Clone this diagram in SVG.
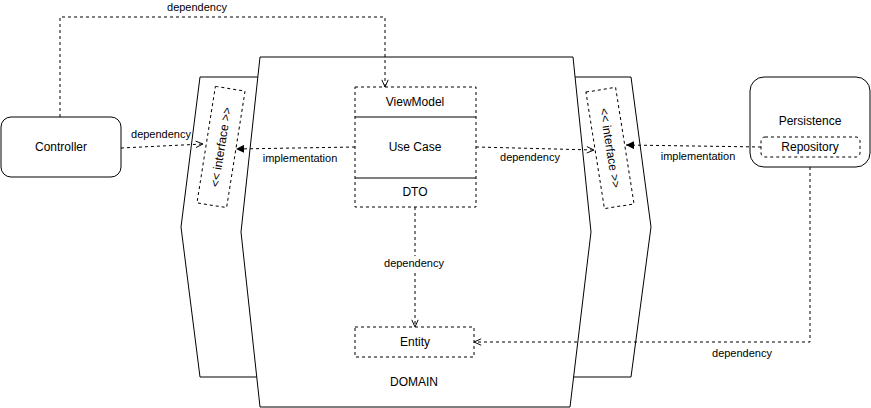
<svg xmlns="http://www.w3.org/2000/svg" width="871" height="408" viewBox="0 0 871 408">
<style>
.s{fill:#fff;stroke:#000;stroke-width:1}
.d{fill:#fff;stroke:#000;stroke-width:1;stroke-dasharray:3 3}
.e{fill:none;stroke:#000;stroke-width:1;stroke-dasharray:3 3}
.t{font-family:"Liberation Sans",Arial,sans-serif;font-size:12px;fill:#000;text-anchor:middle;dominant-baseline:central}
.l{font-family:"Liberation Sans",Arial,sans-serif;font-size:11px;fill:#000;text-anchor:middle;dominant-baseline:central}
</style>
<defs>
<marker id="open" viewBox="0 0 10 10" refX="10" refY="5" markerWidth="8" markerHeight="8" markerUnits="userSpaceOnUse" orient="auto">
<path d="M1,1 L10,5 L1,9" fill="none" stroke="#000" stroke-width="1.2"/>
</marker>
<marker id="block" viewBox="0 0 10 10" refX="10" refY="5" markerWidth="8" markerHeight="8" markerUnits="userSpaceOnUse" orient="auto">
<path d="M0,0 L10,5 L0,10 z" fill="#000"/>
</marker>
</defs>
<g id="left-side">
<polygon class="s" points="200,77 270,77 270,377 200,377 181,227"/>
</g>
<g id="right-side">
<polygon class="s" points="560,77 631,77 651,227 631,377 560,377"/>
</g>
<g id="domain">
<polygon class="s" points="260,57 573,57 591,232 570,407 260,407 241,232"/>
<text class="t" x="414" y="382">DOMAIN</text>
</g>
<g id="left-interface" transform="translate(221,147) rotate(9)">
<rect class="d" x="-15" y="-59" width="30" height="118"/>
<text class="t" x="0" y="0" transform="rotate(-90)">&lt;&lt; interface &gt;&gt;</text>
</g>
<g id="right-interface" transform="translate(610,148) rotate(-9)">
<rect class="d" x="-15" y="-59" width="30" height="118"/>
<text class="t" x="0" y="0" transform="rotate(90)">&lt;&lt; interface &gt;&gt;</text>
</g>
<g id="usecase-stack">
<rect class="d" x="355" y="87" width="121" height="120"/>
<line x1="355" y1="117" x2="476" y2="117" stroke="#000"/>
<line x1="355" y1="178" x2="476" y2="178" stroke="#000"/>
<text class="t" x="415" y="102">ViewModel</text>
<text class="t" x="415" y="147">Use Case</text>
<text class="t" x="415" y="192">DTO</text>
</g>
<g id="entity">
<rect class="d" x="355" y="327" width="119" height="30"/>
<text class="t" x="415" y="342">Entity</text>
</g>
<g id="controller">
<rect class="s" x="1" y="117" width="120" height="60" rx="10" ry="10"/>
<text class="t" x="61" y="147">Controller</text>
</g>
<g id="persistence">
<rect class="s" x="750" y="77" width="120" height="90" rx="14" ry="14"/>
<text class="t" x="810" y="121">Persistence</text>
<rect class="d" x="761" y="137" width="99" height="20" rx="4" ry="4"/>
<text class="t" x="810" y="147">Repository</text>
</g>
<g id="connectors">
<path class="e" d="M60,117 V17 H385 V87" marker-end="url(#open)"/>
<text class="l" x="197" y="7">dependency</text>
<path class="e" d="M121,148 L203,144" marker-end="url(#open)"/>
<text class="l" x="161" y="134">dependency</text>
<path class="e" d="M355,147 L236,149" marker-end="url(#block)"/>
<text class="l" x="300" y="158">implementation</text>
<path class="e" d="M476,147 L594,150" marker-end="url(#open)"/>
<text class="l" x="530" y="157">dependency</text>
<path class="e" d="M761,147 L626,145" marker-end="url(#block)"/>
<text class="l" x="698" y="156">implementation</text>
<path class="e" d="M810,167 V342 H474" marker-end="url(#open)"/>
<text class="l" x="742" y="353">dependency</text>
<path class="e" d="M415,207 V327" marker-end="url(#open)"/>
<rect x="383" y="256" width="64" height="14" fill="#fff"/>
<text class="l" x="414" y="263">dependency</text>
</g>
</svg>
